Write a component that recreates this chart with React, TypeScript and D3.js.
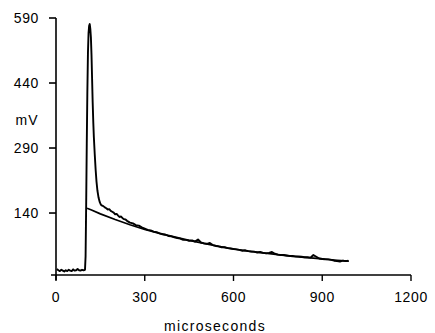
import React from "react";
import * as d3 from "d3";

const xTicks = [0, 300, 600, 900, 1200];
const yTicks = [140, 290, 440, 590];

// measured trace: [time µs, mV]
const traceT = [3, 8, 13, 18, 23, 28, 33, 38, 43, 48, 53, 58, 63, 68, 73, 78, 83, 88, 93, 98, 100,
  102, 104, 106, 108, 110, 112, 114, 116, 118, 120, 122, 124, 126, 128, 131, 134, 137, 140, 144, 148,
  152, 156, 160, 165, 170, 175, 180, 185, 190, 195, 200, 205, 210, 215, 220, 225, 230, 235, 240, 250,
  260, 270, 280, 290, 300, 310, 320, 330, 340, 350, 360, 370, 380, 390, 400, 410, 420, 430, 440, 450,
  460, 470, 480, 490, 500, 510, 520, 530, 540, 550, 560, 570, 580, 590, 600, 610, 620, 630, 640, 650,
  660, 670, 680, 690, 700, 710, 720, 730, 740, 750, 760, 770, 780, 790, 800, 810, 820, 830, 840, 850,
  860, 870, 880, 890, 900, 910, 920, 930, 940, 950, 960, 970, 980, 988];
const traceV = [11, 8, 6, 9, 7, 5, 8, 6, 9, 7, 6, 10, 7, 8, 11, 8, 7, 9, 8, 9, 40,
  160, 300, 420, 510, 555, 572, 576, 565, 545, 505, 450, 395, 350, 315, 275, 240, 212, 192, 175, 165,
  159, 157, 156, 153, 151, 148, 149, 145, 143, 141, 137, 138, 134, 131, 132, 128, 126, 125, 122, 118,
  116, 112, 111, 107, 104, 101, 100, 97, 96, 93, 91, 90, 87, 86, 84, 82, 81, 78, 78, 76,
  77, 74, 79, 72, 70, 69, 71, 66, 64, 63, 61, 61, 59, 58, 57, 56, 55, 53, 54, 52,
  51, 51, 49, 50, 48, 47, 48, 50, 46, 44, 43, 43, 42, 41, 41, 40, 40, 39, 38, 38,
  37, 43, 39, 35, 34, 33, 33, 32, 30, 29, 28, 30, 29, 30];

// fitted curve
const fitT = [105, 120, 150, 200, 250, 300, 350, 400, 450, 500, 550, 600, 650, 700, 750, 800, 850, 900, 950, 990];
const fitV = [151, 147, 138, 125, 113, 102, 93, 85, 77, 70, 63, 57, 52, 48, 44, 40, 37, 34, 31, 29];

export default function App() {
  const x = d3.scaleLinear().domain([0, 1200]).range([56, 411]);
  const y = d3.scaleLinear().domain([-3, 590]).range([275, 18]);
  const line = d3
    .line<[number, number]>()
    .x((d) => x(d[0]))
    .y((d) => y(d[1]));
  const trace: [number, number][] = traceT.map((t, i) => [t, traceV[i]]);
  const fit: [number, number][] = fitT.map((t, i) => [t, fitV[i]]);
  const font = "'Liberation Sans', Arial, sans-serif";
  const y0 = y(-3);
  return (
    <svg
      width={435}
      height={333}
      style={{ position: "absolute", left: 0, top: 0, background: "#fff" }}
    >
      <rect x={0} y={0} width={435} height={333} fill="#fff" />
      {/* axes */}
      <line x1={51} x2={x(1200)} y1={y0} y2={y0} stroke="#000" strokeWidth={1.6} />
      <line x1={x(0)} x2={x(0)} y1={y(590)} y2={y0 + 5} stroke="#000" strokeWidth={1.6} />
      {yTicks.map((v) => (
        <g key={v}>
          <line x1={x(0) - 7} x2={x(0)} y1={y(v)} y2={y(v)} stroke="#000" strokeWidth={1.6} />
          <text
            x={39}
            y={y(v) + 5}
            textAnchor="end"
            fontFamily={font}
            fontSize={14}
            letterSpacing={0.6}
            fill="#000"
          >
            {v}
          </text>
        </g>
      ))}
      {xTicks.map((t) => (
        <g key={t}>
          <line x1={x(t)} x2={x(t)} y1={y0} y2={y0 + 6} stroke="#000" strokeWidth={1.4} />
          <text
            x={x(t)}
            y={302}
            textAnchor="middle"
            fontFamily={font}
            fontSize={14}
            letterSpacing={0.6}
            fill="#000"
          >
            {t}
          </text>
        </g>
      ))}
      <text x={27} y={125} textAnchor="middle" fontFamily={font} fontSize={14} letterSpacing={1} fill="#000">
        mV
      </text>
      <text x={215} y={331} textAnchor="middle" fontFamily={font} fontSize={14} letterSpacing={1.3} fill="#000">
        microseconds
      </text>
      {/* data */}
      <path d={line(trace) || ""} fill="none" stroke="#000" strokeWidth={1.9} strokeLinejoin="round" />
      <path d={line(fit) || ""} fill="none" stroke="#000" strokeWidth={1.7} strokeLinejoin="round" />
    </svg>
  );
}
